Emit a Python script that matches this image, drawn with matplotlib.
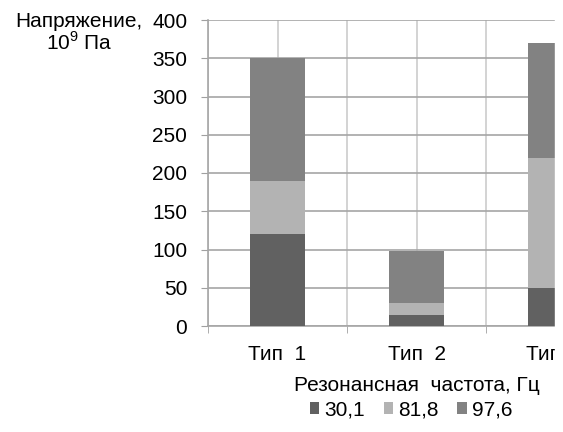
import matplotlib.pyplot as plt
from matplotlib.patches import Rectangle
import numpy as np

plt.rcParams['font.family'] = ['Liberation Sans', 'DejaVu Sans']
plt.rcParams['mathtext.fontset'] = 'custom'
plt.rcParams['mathtext.rm'] = 'Liberation Sans'

categories = ['Тип  1', 'Тип  2', 'Тип  3']
freqs = ['30,1', '81,8', '97,6']
stress_30 = [120, 15, 50]
stress_81 = [70, 15, 170]
stress_97 = [160, 68, 150]
colors = ['#616161', '#b3b3b3', '#828282']

fs = 15

fig = plt.figure(figsize=(5.63, 4.32), dpi=100)
# axes run past the right edge; the third group is only partly visible
ax = fig.add_axes([208/563, 106/432, 417/563, 306/432])

x = np.arange(len(categories))
bottom = np.zeros(len(categories))
for vals, lab, c in zip([stress_30, stress_81, stress_97], freqs, colors):
    ax.bar(x, vals, 0.4, bottom=bottom, color=c, label=lab, zorder=3)
    bottom += np.array(vals)

ax.set_xlim(-0.5, 2.5)
ax.set_ylim(0, 400)
ax.set_yticks(np.arange(0, 401, 50))
ax.set_xticks(x)
ax.set_xticklabels(categories, fontsize=fs)
ax.set_xticks([-0.5, 0.5, 1.5, 2.5], minor=True)
ax.tick_params(axis='y', labelsize=fs, length=5, color='#a0a0a0', pad=10)
ax.tick_params(axis='x', which='major', length=0, pad=14)
ax.tick_params(axis='x', which='minor', length=5, color='#a0a0a0')

ax.grid(axis='y', color='#a6a6a6', lw=1.2, zorder=0)
ax.grid(axis='x', which='both', color='#cccccc', lw=1.2, zorder=0)
for s in ['top', 'right']:
    ax.spines[s].set_visible(False)
for s in ['left', 'bottom']:
    ax.spines[s].set_color('#a6a6a6')
    ax.spines[s].set_linewidth(1.2)

ax.set_xlabel('Резонансная  частота, Гц', fontsize=fs, labelpad=8)
fig.text(79/563, 1 - 33/432, 'Напряжение,\n$10^9$ Па', fontsize=fs,
         ha='center', va='center', multialignment='center', linespacing=1.05)

ax.legend(loc='center', bbox_to_anchor=(411/563, 1 - 410/432),
          bbox_transform=fig.transFigure, ncol=3, frameon=False, fontsize=fs,
          handlelength=0.45, handleheight=0.45, handletextpad=0.25,
          columnspacing=0.9, borderaxespad=0, borderpad=0)

# blank strip along the right edge
fig.add_artist(Rectangle((555/563, 0), 8/563, 1, transform=fig.transFigure,
                         color='white', zorder=10))

plt.savefig('out.png', dpi=100)
